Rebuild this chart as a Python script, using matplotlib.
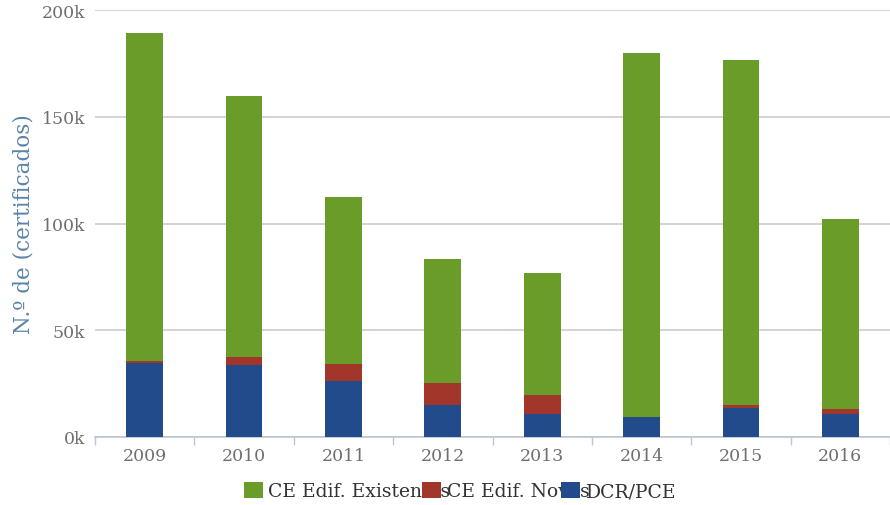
import matplotlib
matplotlib.use("Agg")
import matplotlib.pyplot as plt
import numpy as np

years = ['2009', '2010', '2011', '2012', '2013', '2014', '2015', '2016']
dcr_pce = [34.7, 33.9, 26.1, 15.2, 10.9, 9.4, 13.7, 10.8]      # mil certificados
ce_novos = [0.8, 3.8, 8.0, 10.1, 8.6, 0.0, 1.5, 2.3]
ce_existentes = [153.9, 122.0, 78.2, 58.1, 57.3, 170.6, 161.2, 89.0]
yticks = [0, 50, 100, 150, 200]

green = '#6a9c2a'
red = '#a3362a'
blue = '#224b8c'
grey_txt = '#6f6f6f'

plt.rcParams['font.family'] = ['DejaVu Serif']

fig = plt.figure(figsize=(8.9, 5.06), dpi=100)
ax = fig.add_axes([95 / 890, 1 - 438 / 506, 795 / 890, 427 / 506])

x = np.arange(len(years))
w = 0.37
b1 = ax.bar(x, dcr_pce, w, color=blue, label='DCR/PCE', zorder=3)
bottom2 = np.array(dcr_pce)
b2 = ax.bar(x, ce_novos, w, bottom=bottom2, color=red, label='CE Edif. Novos', zorder=3)
bottom3 = bottom2 + np.array(ce_novos)
b3 = ax.bar(x, ce_existentes, w, bottom=bottom3, color=green, label='CE Edif. Existentes', zorder=3)

ax.set_xlim(-0.5, len(years) - 0.5)
ax.set_ylim(0, 200)
ax.set_yticks(yticks)
ax.set_yticklabels([f'{v}k' for v in yticks])
ax.set_xticks(x)
ax.set_xticklabels(years)
ax.set_xticks(np.arange(-0.5, len(years)), minor=True)

ax.grid(axis='y', color='#cccccc', linewidth=1.2, zorder=0)
for s in ['top', 'right', 'left']:
    ax.spines[s].set_visible(False)
ax.spines['bottom'].set_color('#b9c6d3')
ax.spines['bottom'].set_linewidth(1.2)

ax.tick_params(axis='y', length=0, pad=7, labelsize=12.5, labelcolor=grey_txt)
ax.tick_params(axis='x', which='major', length=0, pad=7, labelsize=12.5, labelcolor=grey_txt)
ax.tick_params(axis='x', which='minor', length=6, width=1, color='#b9c6d3')

ax.set_ylabel('N.º de (certificados)', fontsize=15.5, color='#5b84ab', labelpad=5)

leg = fig.legend([b3, b2, b1], ['CE Edif. Existentes', 'CE Edif. Novos', 'DCR/PCE'],
                 loc='center', bbox_to_anchor=(460 / 890, 1 - 492 / 506), ncol=3,
                 frameon=False, fontsize=13.5, handlelength=1.0, handleheight=1.0,
                 handletextpad=0.3, columnspacing=-1.5, labelcolor='#333333')

fig.savefig('out.png', dpi=100)
